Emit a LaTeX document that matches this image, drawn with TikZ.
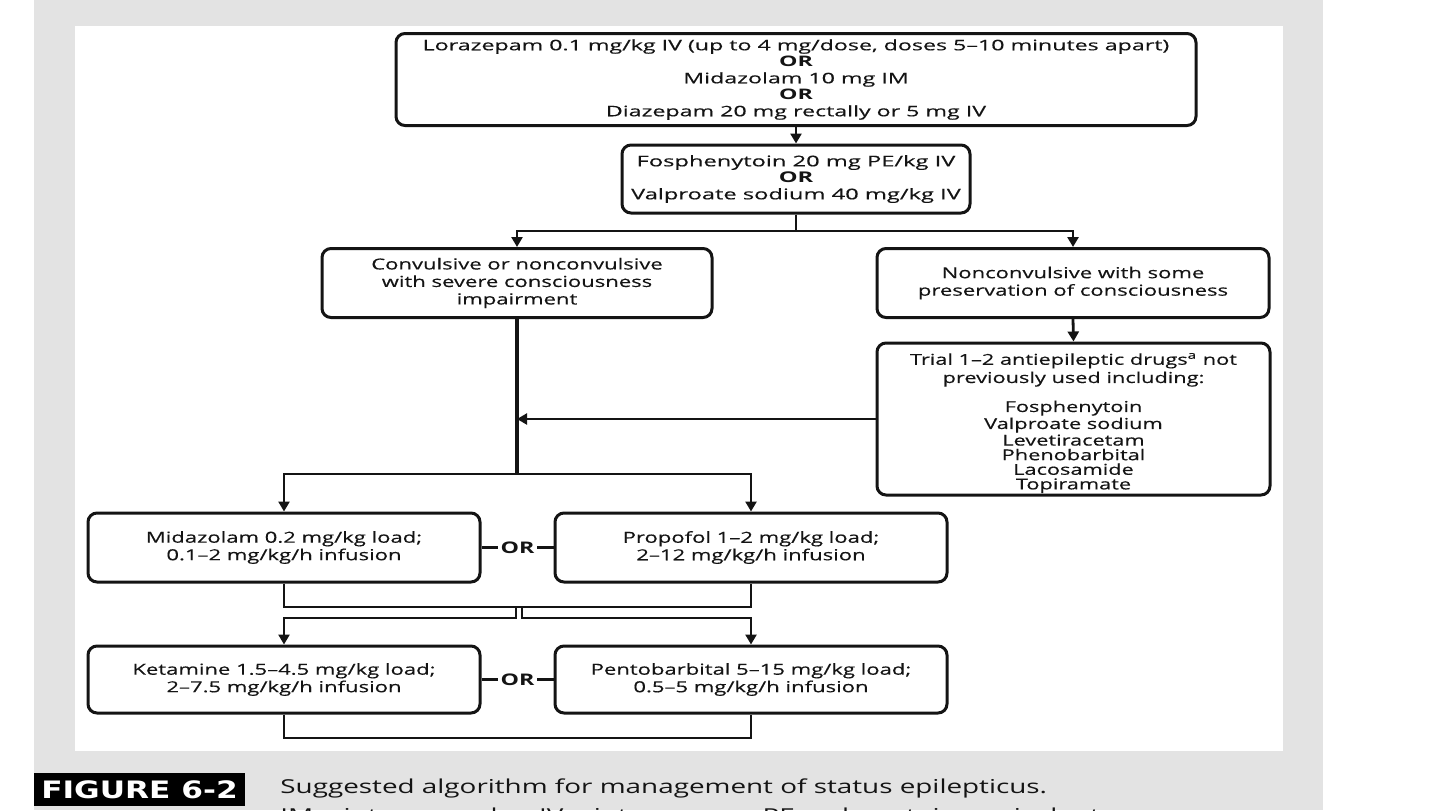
\documentclass[tikz,border=0pt]{standalone}
\usepackage{fontspec}
\setmainfont{Open Sans}[FakeStretch=1.45, UprightFeatures={FakeBold=0.35}]
\newfontfamily\widefont{Open Sans}[FakeStretch=1.6, UprightFeatures={FakeBold=0.35}]
\newfontfamily\capfont{Open Sans}[FakeStretch=1.45]
\newfontfamily\figfont{DejaVu Sans}[FakeStretch=1.3]
\usetikzlibrary{arrows.meta}
\definecolor{panelgray}{HTML}{E3E3E3}
\definecolor{ink}{HTML}{141414}
\begin{document}
\begin{tikzpicture}[x=0.5pt,y=-0.5pt,
  box/.style={draw=ink, text=ink, line width=1.5pt, rounded corners=4.5pt, align=center, inner sep=0pt, fill=white, font=\fontsize{7.6}{8.75}\selectfont},
  conn/.style={draw=ink, line width=1.4pt},
  arr/.style={conn, -{Triangle[length=5pt,width=5.5pt]}},
  orl/.style={text=ink, font=\bfseries\fontsize{8}{8}\selectfont, fill=white, inner sep=1.2pt},
  plaintext/.style={text=ink, align=center, inner sep=0pt}]
\useasboundingbox (0,0) rectangle (1440,810);
\clip (0,0) rectangle (1440,810);
\fill[panelgray] (34,0) rectangle (1323,810);
\fill[white] (75,26) rectangle (1283,751);

\node[box, minimum width=400pt, minimum height=46pt, font=\widefont\fontsize{7.25}{8.25}\selectfont] (top) at (796,79.5)
 {Lorazepam 0.1 mg/kg IV (up to 4 mg/dose, doses 5–10 minutes apart)\\\textbf{OR}\\Midazolam 10 mg IM\\\textbf{OR}\\Diazepam 20 mg rectally or 5 mg IV};
\node[box, minimum width=174pt, minimum height=34pt, font=\widefont\fontsize{7.4}{8.25}\selectfont] (fos) at (796,179)
 {Fosphenytoin 20 mg PE/kg IV\\\textbf{OR}\\Valproate sodium 40 mg/kg IV};
\node[box, minimum width=195pt, minimum height=34.5pt] (conv) at (517,283)
 {Convulsive or nonconvulsive\\with severe consciousness\\impairment};
\node[box, minimum width=196pt, minimum height=34.5pt] (non) at (1073,283)
 {Nonconvulsive with some\\preservation of consciousness};
\node[box, minimum width=196.5pt, minimum height=76pt] (trial) at (1073.5,419) {};
\node[plaintext, font=\fontsize{7.5}{7.3}\selectfont] (trialtxt) at (1073.5,423)
 {Trial 1–2 antiepileptic drugs\textsuperscript{a} not\\[0.6pt]previously used including:\\[6pt]Fosphenytoin\\Valproate sodium\\Levetiracetam\\Phenobarbital\\Lacosamide\\Topiramate};
\node[box, minimum width=196pt, minimum height=34.5pt] (mida) at (284,547.5)
 {Midazolam 0.2 mg/kg load;\\0.1–2 mg/kg/h infusion};
\node[box, minimum width=196pt, minimum height=34.5pt] (prop) at (751,547.5)
 {Propofol 1–2 mg/kg load;\\2–12 mg/kg/h infusion};
\node[box, minimum width=196pt, minimum height=33.5pt] (keta) at (284,679.5)
 {Ketamine 1.5–4.5 mg/kg load;\\2–7.5 mg/kg/h infusion};
\node[box, minimum width=196pt, minimum height=33.5pt] (pento) at (751,679.5)
 {Pentobarbital 5–15 mg/kg load;\\0.5–5 mg/kg/h infusion};

\coordinate (b1) at (517,231);
\coordinate (b2) at (1073,231);
\coordinate (j) at (517,474);
\coordinate (m1) at (516,607);
\coordinate (m2) at (522,607);
\coordinate (n1) at (516,618);
\coordinate (n2) at (522,618);
\coordinate (bt) at (0,738);

\draw[arr] (top.south) -- (fos.north);
\draw[arr] (fos.south) |- (b1) -- (conv.north);
\draw[arr] (fos.south) |- (b2) -- (non.north);
\draw[arr] (non.south) -- (trial.north);
\draw[conn, line width=1.9pt] (conv.south) -- (j);
\draw[arr, line width=1.1pt] (trial.west) -- (trial.west -| conv.south);
\draw[arr] (j) -| (mida.north);
\draw[arr] (j) -| (prop.north);
\draw[conn] (mida.east) -- node[orl] (or1) {OR} (prop.west);
\draw[conn] (mida.south) |- (prop.south |- m1) -- (prop.south);
\draw[arr] (m1) -- (n1) -| (keta.north);
\draw[arr] (m2) -- (n2) -| (pento.north);
\draw[conn] (keta.east) -- node[orl] (or2) {OR} (pento.west);
\draw[conn] (keta.south) |- (pento.south |- bt) -- (pento.south);

\fill[black] (34,773) rectangle (245,806);
\node[text=white, inner sep=0pt, font=\figfont\bfseries\fontsize{12}{12}\selectfont] (fig) at (139.5,789.5) {FIGURE 6-2};
\node[anchor=base west, inner sep=0pt, text=ink, font=\capfont\fontsize{9.6}{10}\selectfont] (cap1) at (280,793) {Suggested algorithm for management of status epilepticus.};
\node[anchor=base west, inner sep=0pt, text=ink, font=\capfont\fontsize{9.6}{10}\selectfont] (cap2) at (280,822) {IM = intramuscular; IV = intravenous; PE = phenytoin equivalent.};
\end{tikzpicture}
\end{document}
